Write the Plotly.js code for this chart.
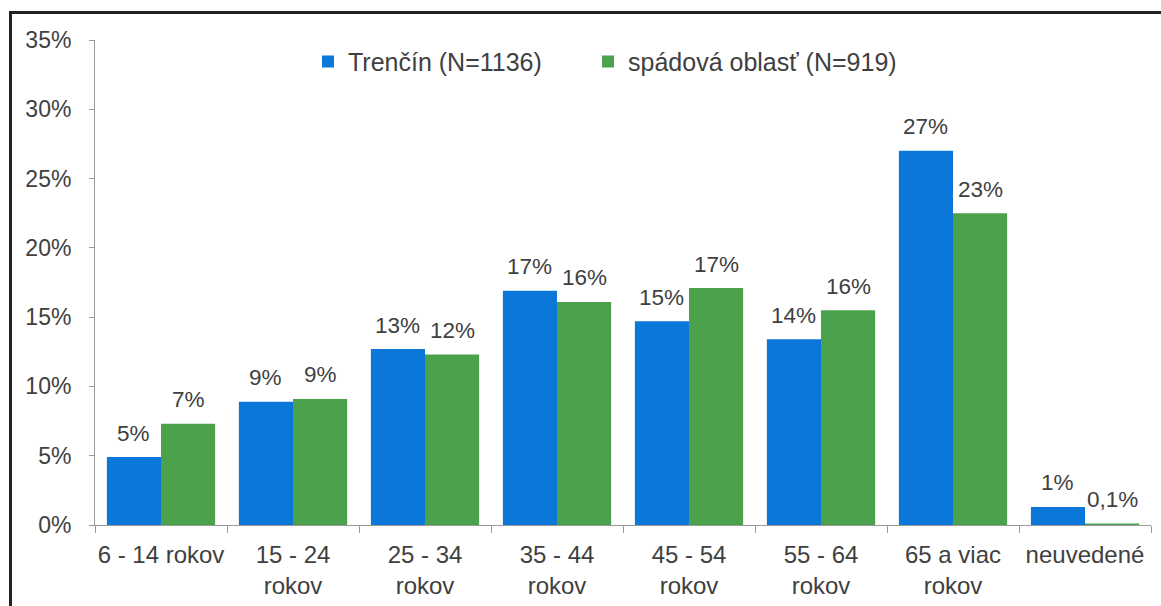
<!DOCTYPE html>
<html>
<head>
<meta charset="utf-8">
<script src="https://cdn.plot.ly/plotly-3.0.1.min.js"></script>
<style>
  html, body { margin: 0; padding: 0; background: #ffffff; overflow: hidden; }
  #frame { position: absolute; left: 9px; top: 11px; width: 1160px; height: 600px;
           border-top: 3px solid #222; border-left: 3px solid #222; }
  #chart { position: absolute; left: 0; top: 0; width: 1161px; height: 606px; }
</style>
</head>
<body>
<div id="frame"></div>
<div id="chart"></div>
<script>
const categories = ["6 - 14 rokov", "15 - 24<br>rokov", "25 - 34<br>rokov", "35 - 44<br>rokov",
                    "45 - 54<br>rokov", "55 - 64<br>rokov", "65 a viac<br>rokov", "neuvedené"];
const trencin = [4.9, 8.9, 12.7, 16.9, 14.7, 13.4, 27.0, 1.3];
const spadova = [7.3, 9.1, 12.3, 16.1, 17.1, 15.5, 22.5, 0.1];
const trencinLabels = ["5%", "9%", "13%", "17%", "15%", "14%", "27%", "1%"];
const spadovaLabels = ["7%", "9%", "12%", "16%", "17%", "16%", "23%", "0,1%"];
const yTickVals = [0, 5, 10, 15, 20, 25, 30, 35];
const yTickText = ["0%", "5%", "10%", "15%", "20%", "25%", "30%", "35%"];

const W = 1161, H = 606;
const M = { l: 95, r: 10, t: 40, b: 81 };
const BARGAP = 0.18;
const FONT = "Liberation Sans, Arial, sans-serif";
const TXT = "#404040";

// half of a single bar's width in pixels (two bars per group)
const catPx = (W - M.l - M.r) / categories.length;
const halfBar = catPx * (1 - BARGAP) / 4;

const traces = [
  { type: "bar", name: "Trenčín (N=1136)", x: categories, y: trencin, legend: "legend",
    marker: { color: "#0b78d9" }, hoverinfo: "none" },
  { type: "bar", name: "spádová oblasť (N=919)", x: categories, y: spadova, legend: "legend2",
    marker: { color: "#4ca24c" }, hoverinfo: "none" }
];

const annotations = [];
categories.forEach((c, i) => {
  annotations.push({ x: c, y: trencin[i], xref: "x", yref: "y", text: trencinLabels[i],
    showarrow: false, xshift: -halfBar, yshift: 24, yanchor: "middle",
    font: { family: FONT, size: 22.5, color: TXT } });
  annotations.push({ x: c, y: spadova[i], xref: "x", yref: "y", text: spadovaLabels[i],
    showarrow: false, xshift: halfBar, yshift: 24, yanchor: "middle",
    font: { family: FONT, size: 22.5, color: TXT } });
});

const legendBase = { orientation: "h", xanchor: "left", y: 0.955, yanchor: "middle",
                     font: { family: FONT, size: 25, color: TXT },
                     itemwidth: 30, bgcolor: "rgba(0,0,0,0)" };

const layout = {
  width: W, height: H,
  margin: M,
  paper_bgcolor: "rgba(0,0,0,0)", plot_bgcolor: "rgba(0,0,0,0)",
  font: { family: FONT, size: 22, color: TXT },
  barmode: "group", bargap: BARGAP, bargroupgap: 0,
  showlegend: true,
  legend: Object.assign({}, legendBase, { x: 0.2017 }),
  legend2: Object.assign({}, legendBase, { x: 0.4669 }),
  annotations: annotations,
  xaxis: { type: "category", showgrid: false, showline: true, linecolor: "#9a9a9a", linewidth: 1,
           ticks: "outside", tickson: "boundaries", ticklen: 7, tickcolor: "#9a9a9a",
           ticklabelstandoff: 8, tickangle: 0,
           tickfont: { family: FONT, size: 24, color: TXT }, fixedrange: true },
  yaxis: { range: [0, 35], showgrid: false, zeroline: false, showline: true, linecolor: "#9a9a9a",
           linewidth: 1, ticks: "outside", ticklen: 5, tickcolor: "#9a9a9a",
           tickvals: yTickVals, ticktext: yTickText, ticklabelstandoff: 13,
           tickfont: { family: FONT, size: 23, color: TXT }, fixedrange: true }
};

Plotly.newPlot("chart", traces, layout, { displayModeBar: false, staticPlot: true });
</script>
</body>
</html>
